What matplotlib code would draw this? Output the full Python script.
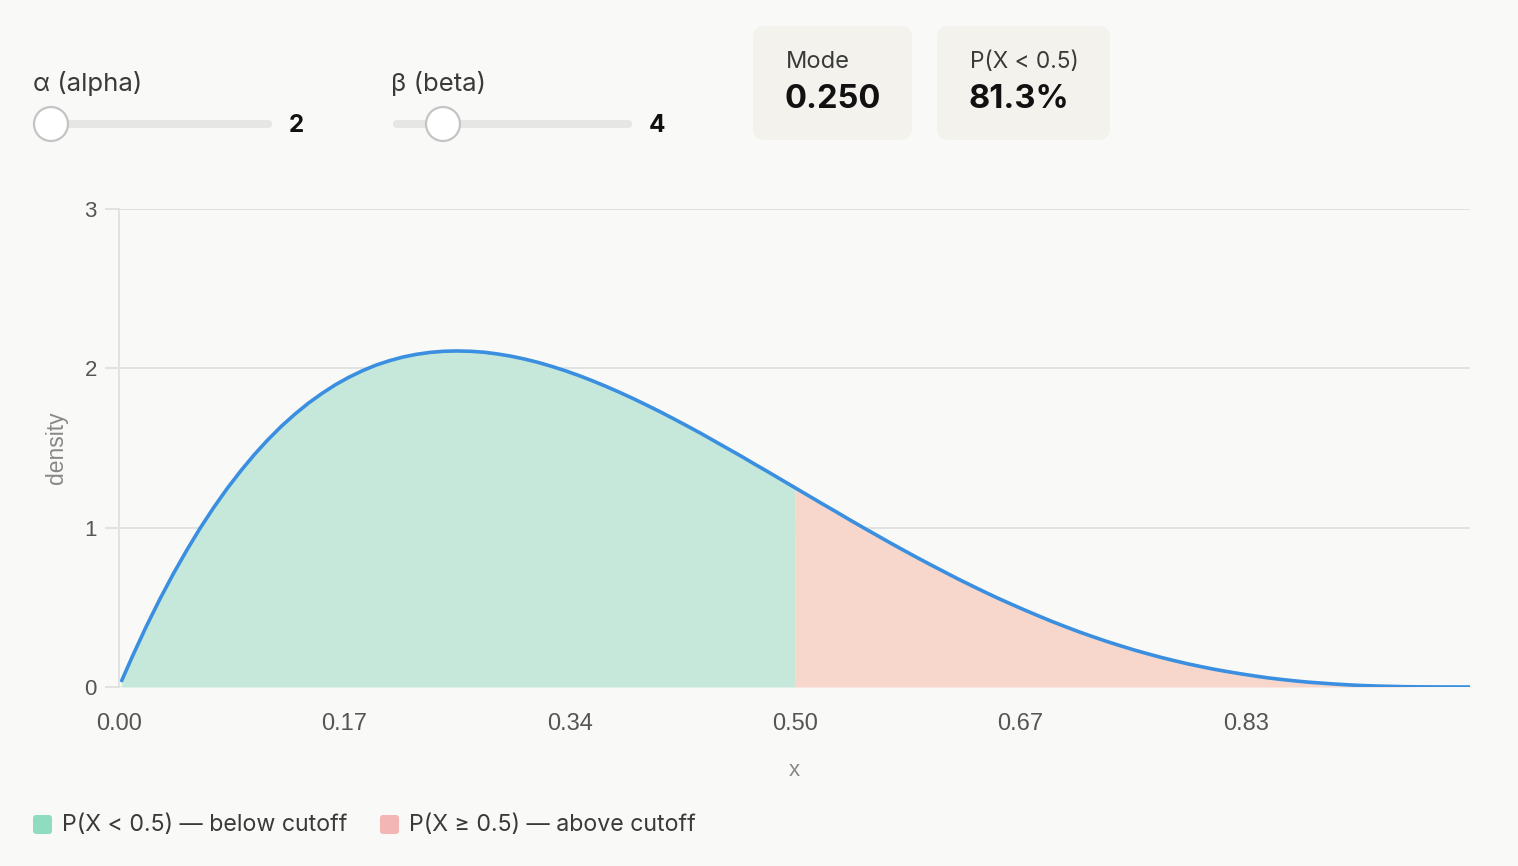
import matplotlib
matplotlib.use("Agg")
import matplotlib.pyplot as plt
from matplotlib.patches import FancyBboxPatch, Circle
import numpy as np

# ---- data (Beta(2,4) density curve) ----
x_vals = [0.002, 0.01, 0.02, 0.03, 0.04, 0.05, 0.06, 0.07, 0.08, 0.09,
          0.10, 0.11, 0.12, 0.13, 0.14, 0.15, 0.16, 0.17, 0.18, 0.19,
          0.20, 0.21, 0.22, 0.23, 0.24, 0.25, 0.26, 0.27, 0.28, 0.29,
          0.30, 0.31, 0.32, 0.33, 0.34, 0.35, 0.36, 0.37, 0.38, 0.39,
          0.40, 0.41, 0.42, 0.43, 0.44, 0.45, 0.46, 0.47, 0.48, 0.49,
          0.50, 0.51, 0.52, 0.53, 0.54, 0.55, 0.56, 0.57, 0.58, 0.59,
          0.60, 0.61, 0.62, 0.63, 0.64, 0.65, 0.66, 0.67, 0.68, 0.69,
          0.70, 0.71, 0.72, 0.73, 0.74, 0.75, 0.76, 0.77, 0.78, 0.79,
          0.80, 0.81, 0.82, 0.83, 0.84, 0.85, 0.86, 0.87, 0.88, 0.89,
          0.90, 0.91, 0.92, 0.93, 0.94, 0.95, 0.96, 0.97, 0.98, 0.99, 0.999]
density = [0.040, 0.194, 0.377, 0.548, 0.708, 0.857, 0.997, 1.126, 1.246, 1.356,
           1.458, 1.551, 1.636, 1.712, 1.781, 1.842, 1.897, 1.944, 1.985, 2.020,
           2.048, 2.071, 2.088, 2.100, 2.107, 2.109, 2.107, 2.101, 2.090, 2.076,
           2.058, 2.037, 2.012, 1.985, 1.955, 1.922, 1.887, 1.850, 1.811, 1.770,
           1.728, 1.684, 1.639, 1.593, 1.545, 1.497, 1.449, 1.399, 1.350, 1.300,
           1.250, 1.200, 1.150, 1.101, 1.051, 1.002, 0.954, 0.906, 0.859, 0.813,
           0.768, 0.724, 0.680, 0.638, 0.597, 0.557, 0.519, 0.482, 0.446, 0.411,
           0.378, 0.346, 0.316, 0.287, 0.260, 0.234, 0.210, 0.187, 0.166, 0.146,
           0.128, 0.111, 0.096, 0.082, 0.069, 0.057, 0.047, 0.038, 0.030, 0.024,
           0.018, 0.013, 0.009, 0.006, 0.004, 0.002, 0.001, 0.0005, 0.0002, 0.0, 0.0]
cutoff = 0.5
x_ticks = [0.0, 1/6, 1/3, 0.5, 2/3, 5/6]
x_tick_labels = ["0.00", "0.17", "0.34", "0.50", "0.67", "0.83"]
y_ticks = [0, 1, 2, 3]
alpha_val = 2
beta_val = 4
mode_text = "0.250"
prob_text = "81.3%"

BG = "#f9f9f7"
W, H = 1518, 866
fig = plt.figure(figsize=(W / 100, H / 100), dpi=100, facecolor=BG)

UI = ["Inter", "DejaVu Sans"]
AX = ["Liberation Sans", "DejaVu Sans"]

# ---- main chart ----
ax = fig.add_axes([119 / W, (H - 687) / H, 1351 / W, 478 / H])
ax.set_facecolor(BG)
x = np.array(x_vals)
y = np.array(density)
below = x <= cutoff
above = x >= cutoff
ax.fill_between(x[below], 0, y[below], color="#c6e8da", linewidth=0, zorder=2)
ax.fill_between(x[above], 0, y[above], color="#f7d7cb", linewidth=0, zorder=2)
ax.plot(x, y, color="#3b8fe0", linewidth=2.6, solid_capstyle="round",
        solid_joinstyle="round", zorder=4)

ax.set_xlim(0, 0.999)
ax.set_ylim(0, 3)
ax.set_yticks(y_ticks)
ax.set_yticklabels([str(v) for v in y_ticks], family=AX, fontsize=16, color="#555555")
ax.set_xticks(x_ticks)
ax.set_xticklabels(x_tick_labels, family=AX, fontsize=17, color="#555555")
ax.grid(axis="y", color="#e2e2e0", linewidth=1.4, zorder=1)
ax.tick_params(axis="y", length=10, width=1.4, color="#e2e2e0", pad=6)
ax.tick_params(axis="x", length=0, pad=19)
for s in ["top", "right", "bottom"]:
    ax.spines[s].set_visible(False)
ax.spines["left"].set_color("#e2e2e0")
ax.spines["left"].set_linewidth(1.4)
ax.set_xlabel("x", family=AX, fontsize=16, color="#888888", labelpad=18)
ax.set_ylabel("density", family=AX, fontsize=16.5, color="#888888", labelpad=12)

# ---- UI overlay in pixel coordinates ----
ov = fig.add_axes([0, 0, 1, 1], zorder=10)
ov.set_xlim(0, W)
ov.set_ylim(H, 0)
ov.axis("off")
ov.patch.set_alpha(0)

def slider(label, value, x0, x1, thumb_x, val_x):
    ov.text(x0 - 2, 83, label, family=UI, fontsize=18.5, color="#3a3a3a", va="center", ha="left")
    ov.add_patch(FancyBboxPatch((x0, 120), x1 - x0, 8, boxstyle="round,pad=0,rounding_size=4",
                                facecolor="#e6e6e4", edgecolor="none"))
    ov.add_patch(Circle((thumb_x, 124), 17, facecolor="white", edgecolor="#c4c4c4", linewidth=1.6))
    ov.text(val_x, 125, str(value), family=UI, fontsize=17.5, fontweight="bold", color="#111111",
            va="center", ha="left")

slider("α (alpha)", alpha_val, 35, 272, 51, 289)
slider("β (beta)", beta_val, 393, 632, 443, 649)

def card(x0, x1, title, value, title_size):
    ov.add_patch(FancyBboxPatch((x0, 26), x1 - x0, 114, boxstyle="round,pad=0,rounding_size=12",
                                facecolor="#f3f2ec", edgecolor="none"))
    ov.text(x0 + 33, 62, title, family=UI, fontsize=title_size, color="#3a3a3a", va="center", ha="left")
    ov.text(x0 + 32, 100, value, family=UI, fontsize=23.5, fontweight="bold", color="#111111",
            va="center", ha="left")

card(753, 912, "Mode", mode_text, 17)
card(937, 1110, "P(X < 0.5)", prob_text, 16.3)

def legend_item(x0, color, text):
    ov.add_patch(FancyBboxPatch((x0, 815), 19, 19, boxstyle="round,pad=0,rounding_size=3",
                                facecolor=color, edgecolor="none"))
    ov.text(x0 + 29, 825, text, family=UI, fontsize=16.7, color="#3a3a3a", va="center", ha="left")

legend_item(33, "#8fdcc0", "P(X < 0.5) — below cutoff")
legend_item(380, "#f4b6b4", "P(X ≥ 0.5) — above cutoff")

fig.savefig("out.png", dpi=100, facecolor=BG)
